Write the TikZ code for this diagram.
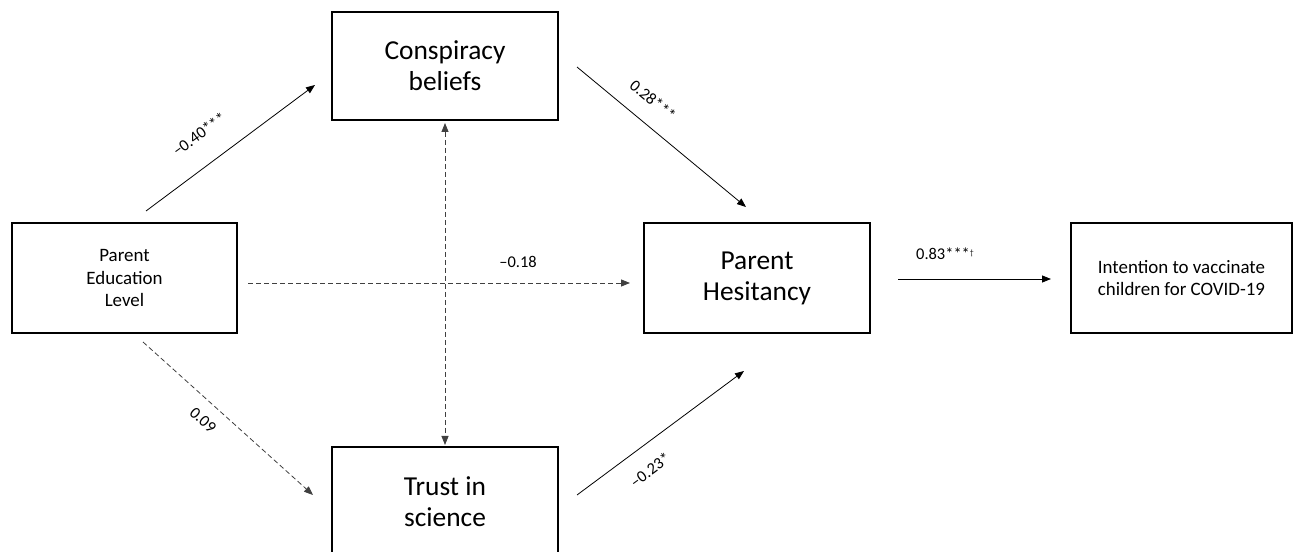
\documentclass[tikz,border=0pt]{standalone}
\usepackage{fontspec}
\setmainfont{Carlito}
\usetikzlibrary{arrows.meta}
\tikzset{
  box/.style={draw=black, line width=1.2bp, minimum width=226bp, minimum height=110bp, align=center, inner sep=0pt},
  bigtext/.style={font=\fontsize{27.5}{31}\selectfont},
  smalltext/.style={font=\fontsize{19}{22.5}\selectfont},
  lab/.style={font=\fontsize{16.5}{18}\selectfont, inner sep=1bp},
  conn/.style={line width=0.8bp, -{Triangle[length=9bp,width=7bp]}},
  dconn/.style={conn, draw=black!75, dash pattern=on 5bp off 3bp}
}
\begin{document}
\begin{tikzpicture}[x=1bp,y=-1bp]
\useasboundingbox (0,0) rectangle (1293,552);
\clip (0,0) rectangle (1293,552);
\fill[white] (0,0) rectangle (1293,552);
% nodes
\node[box, smalltext, minimum width=225bp] (pe) at (124.5,278) {Parent\\Education\\Level};
\node[box, bigtext, minimum height=108bp] (cb) at (445,66) {Conspiracy\\beliefs};
\node[box, bigtext] (ts) at (445,502) {Trust in\\science};
\node[box, bigtext] (ph) at (757,278) {Parent\\Hesitancy};
\node[box, smalltext, minimum width=221bp] (in) at (1181.5,278) {Intention to vaccinate\\children for COVID-19};
% connector end points
\coordinate (a1s) at (146,211); \coordinate (a1e) at (315,85);
\coordinate (a2s) at (577,67);  \coordinate (a2e) at (746,207);
\coordinate (a3s) at (143,342); \coordinate (a3e) at (313,495);
\coordinate (a4s) at (577,495); \coordinate (a4e) at (744,371);
\coordinate (a5s) at (248,283); \coordinate (a5e) at (630,283);
\coordinate (a6s) at (445,123); \coordinate (a6e) at (445,445);
\coordinate (a7s) at (898,279); \coordinate (a7e) at (1051,279);
% connectors
\draw[conn] (a1s) -- (a1e);
\draw[conn] (a2s) -- (a2e);
\draw[dconn] (a3s) -- (a3e);
\draw[conn] (a4s) -- (a4e);
\draw[dconn] (a5s) -- (a5e);
\draw[dconn, {Triangle[length=9bp,width=7bp]}-{Triangle[length=9bp,width=7bp]}] (a6s) -- (a6e);
\draw[conn] (a7s) -- (a7e);
% labels
\node[lab, rotate=36] (l1) at (199,134) {–0.40***};
\node[lab, rotate=-40] (l2) at (653,100) {0.28***};
\node[lab, rotate=-42] (l3) at (203,420) {0.09};
\node[lab, rotate=36.5] (l4) at (650,470) {–0.23*};
\node[lab] (l5) at (518,262) {–0.18};
\node[lab] (l6) at (945,254) {0.83***\raisebox{0.5ex}{\fontsize{8}{8}\selectfont †}};
\end{tikzpicture}
\end{document}
